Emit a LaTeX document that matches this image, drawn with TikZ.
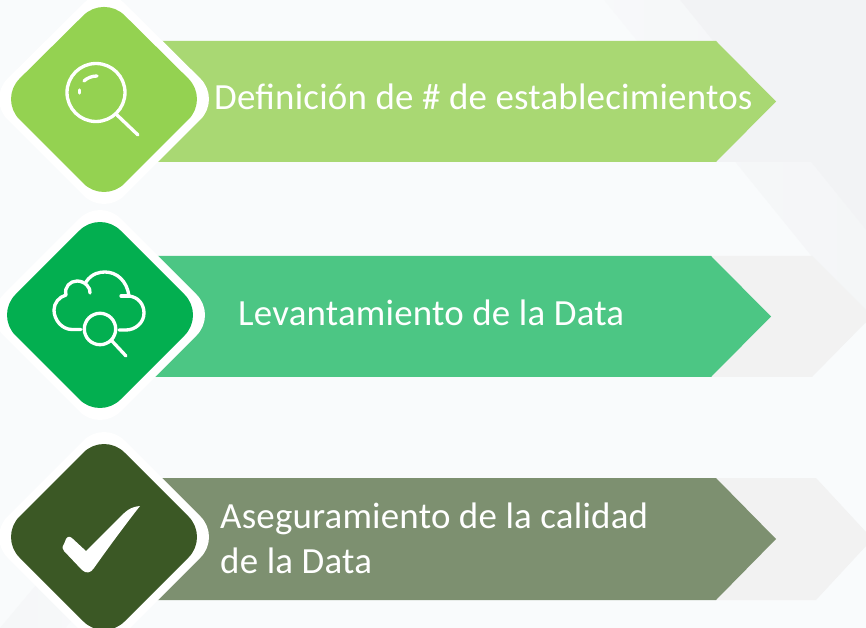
\documentclass[tikz,border=0pt]{standalone}
\usepackage{fontspec}
\setmainfont[LetterSpace=0.6]{Carlito}
\usetikzlibrary{positioning}

\tikzset{
  iconline/.style={draw=white, line width=0.1cm, line cap=round, line join=round},
  steptext/.style={anchor=base west, text=white, inner sep=0pt, font=\fontsize{31.5pt}{35pt}\selectfont}
}

\begin{document}
\begin{tikzpicture}[x=0.03cm, y=-0.03cm]

% Define colors
\definecolor{pagebg}{HTML}{F9FBFC}
\definecolor{pagegray}{HTML}{F2F3F5}
\definecolor{ghostgray}{HTML}{F2F2F2}
\definecolor{limedark}{HTML}{94D251}
\definecolor{limelight}{HTML}{A9D873}
\definecolor{greendark}{HTML}{03AF50}
\definecolor{greenlight}{HTML}{4CC684}
\definecolor{olivedark}{HTML}{3B5825}
\definecolor{olivelight}{HTML}{7D9070}

% Fix the page and draw the background
\useasboundingbox (0, 0) rectangle (866, 628);
\fill[pagebg] (0, 0) rectangle (866, 628);
\begin{scope}
\clip (0, 0) rectangle (866, 628);
\shade[left color=pagebg, right color=pagegray, shift={(740, 120)}, rotate=39] (-30, -500) rectangle (30, 500);
\fill[pagegray, shift={(740, 120)}, rotate=39] (29, -500) rectangle (500, 500);
\shade[left color=pagegray, right color=pagebg, shift={(0, 628)}, rotate=-40] (0, -200) rectangle (50, 200);
\end{scope}

% Draw the pale arrows behind
\fill[pagegray] (716, 41) -- (816, 41) -- (866, 91) -- (866, 112) -- (816, 162) -- (716, 162) -- cycle;
\fill[ghostgray] (711, 256) -- (812, 256) -- (866, 310) -- (866, 322) -- (812, 377) -- (711, 377) -- cycle;
\fill[ghostgray] (716, 478) -- (816, 478) -- (866, 532) -- (866, 546) -- (816, 600) -- (716, 600) -- cycle;

% Draw the coloured arrows
\fill[limelight] (150, 41) -- (716, 41) -- (776, 101.5) -- (716, 162) -- (150, 162) -- cycle;
\fill[greenlight] (145, 256) -- (711, 256) -- (771, 316.5) -- (711, 377) -- (145, 377) -- cycle;
\fill[olivelight] (150, 478) -- (716, 478) -- (776, 539) -- (716, 600) -- (150, 600) -- cycle;

% Draw the white diamonds
\fill[white, rounded corners=0.87cm] (104, -17) -- (221, 99) -- (104, 216) -- (-13, 99) -- cycle;
\fill[white, rounded corners=0.87cm] (100, 198) -- (217, 315) -- (100, 432) -- (-17, 315) -- cycle;
\fill[white, rounded corners=0.87cm] (104, 420) -- (221, 537) -- (104, 654) -- (-13, 537) -- cycle;

% Draw the coloured diamonds
\fill[limedark, rounded corners=0.87cm] (104, -5) -- (209, 99) -- (104, 204) -- (-1, 99) -- cycle;
\fill[greendark, rounded corners=0.87cm] (100, 210) -- (205, 315) -- (100, 420) -- (-5, 315) -- cycle;
\fill[olivedark, rounded corners=0.87cm] (104, 432) -- (209, 537) -- (104, 642) -- (-1, 537) -- cycle;

% Magnifying glass
\draw[iconline] (96, 92.5) circle (29);
\draw[iconline] (117, 115) -- (138, 135);
\draw[iconline] (84, 81) .. controls (87, 78) and (92, 76) .. (97, 76);
\draw[iconline] (79.5, 90) -- (79.5, 93);

% Cloud with magnifying glass
\draw[iconline] (81, 329.5) -- (72, 329.5) .. controls (62, 329.5) and (54, 320) .. (54, 310)
  .. controls (54, 303) and (59, 297) .. (66, 295)
  .. controls (64, 287) and (70, 281) .. (77, 281)
  .. controls (85, 281) and (91, 288) .. (90, 293);
\draw[iconline] (86, 282) .. controls (92, 273) and (100, 272) .. (105, 272)
  .. controls (117, 272) and (127, 281) .. (129, 296)
  .. controls (138, 297) and (144, 304) .. (144, 313)
  .. controls (144, 323) and (135, 330) .. (126, 330) -- (119, 330);
\draw[iconline] (121, 296) -- (129, 296);
\draw[iconline] (100, 329) circle (15.7);
\draw[iconline] (112, 341) -- (126, 356);

% Check mark
\fill[white] (140, 506) .. controls (130, 507) and (126, 511) .. (118, 519)
  -- (86, 551) -- (73, 539) .. controls (70, 536) and (68, 536) .. (66, 539)
  -- (64, 544) .. controls (62, 547) and (62, 549) .. (64, 551)
  -- (82, 570) .. controls (86, 574) and (91, 573) .. (94, 568)
  .. controls (106, 551) and (125, 525) .. cycle;

% Add labels
\node[steptext] (define) at (214, 110) {Definición de \# de establecimientos};
\node[steptext] (survey) at (238, 326) {Levantamiento de la Data};
\node[steptext] (assure) at (220, 528) {Aseguramiento de la calidad};
\node[steptext] (assureb) at (220, 573) {de la Data};

\end{tikzpicture}
\end{document}
